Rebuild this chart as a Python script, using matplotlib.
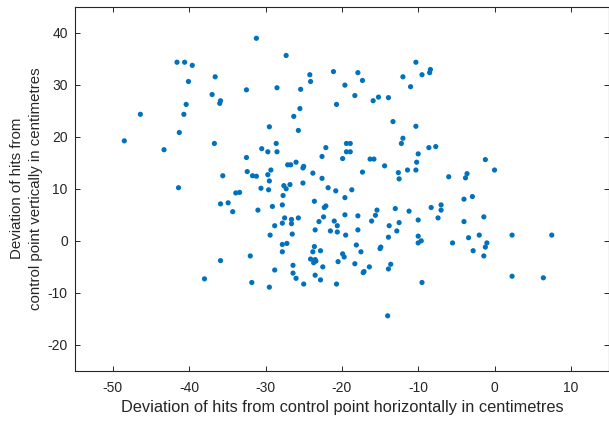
import matplotlib
matplotlib.use("Agg")
import matplotlib.pyplot as plt

plt.rcParams['font.family'] = ['Liberation Sans', 'DejaVu Sans']
plt.rcParams['axes.unicode_minus'] = False

# deviation of each hit from the control point (cm)
x_dev = [
    -41.6, -40.6, -39.6, -40.1, -36.6, -32.5, -37.0, -35.9, -36.0, -40.4, -46.4, -40.7,
    -31.2, -27.3, -24.2, -24.1, -21.1, -17.9, -17.3, -19.6, -28.5, -25.4, -18.3, -15.9,
    -15.2, -13.9, -20.7, -25.5, -26.3, -29.5, -25.7, -12.0, -11.0, -10.3, -13.3, -10.3,
    -9.5, -8.4, -8.5,
    -48.5, -41.3, -43.3, -36.7, -32.5, -32.4, -35.6, -41.4, -33.9, -33.4, -35.9, -34.9, -34.3,
    -28.6, -30.5, -29.7, -28.5, -22.1, -22.6, -19.4, -18.9, -19.4, -18.9, -19.9, -27.1,
    -26.7, -26.0, -25.0, -25.1, -31.7, -31.2, -29.7, -29.3, -29.5, -30.6, -29.6, -27.6,
    -26.8, -27.3, -27.7, -25.1, -23.8, -22.6, -21.8, -20.8, -18.7, -19.6, -23.6, -22.1,
    -22.3, -31.0, -29.1, -27.8, -27.5, -26.6, -26.6, -27.8, -25.7, -28.8, -29.4, -26.5,
    -27.8, -27.2, -22.4, -23.0, -23.5, -21.0, -20.6, -19.6, -17.9, -21.5, -20.6, -19.5,
    -17.9, -23.6, -18.1, -17.3, -16.3, -15.8, -14.4, -12.6, -12.5, -11.4, -10.3, -12.2,
    -12.0, -10.2, -15.4, -15.6, -16.1, -13.0, -11.2, -13.8, -12.5, -12.8, -13.9, -14.9,
    -8.6, -7.7, -10.0, -1.2, 0.0, -6.0, -3.6, -3.8, -4.0, -2.9, -7.0, -7.0, -8.3, -10.0,
    -7.4, -4.0, -1.4, -10.0, -9.6, -10.0, -5.5, -3.4, -2.0, -1.0, -1.2, 2.3, 7.5,
    -2.8, -1.4, 2.3, 6.4, -9.5,
    -32.0, -31.8, -29.5, -28.8, -27.8, -26.4, -26.4, -26.0, -25.0, -23.8, -22.8, -24.1,
    -23.5, -23.7, -23.4, -22.5, -23.5, -22.8, -20.7, -20.5, -19.9, -19.7, -17.5, -18.3,
    -17.1, -17.2, -16.4, -15.0, -13.6, -13.9, -14.0,
    -35.9, -38.0,
]
y_dev = [
    34.3, 34.3, 33.7, 30.6, 31.5, 29.0, 28.1, 26.9, 26.4, 26.2, 24.3, 24.3,
    38.9, 35.6, 31.9, 30.6, 32.5, 32.3, 30.8, 29.9, 29.4, 29.1, 27.9, 26.9,
    27.6, 27.5, 26.2, 25.4, 23.9, 21.9, 21.2, 31.5, 29.6, 34.3, 22.9, 22.0,
    31.9, 32.9, 32.3,
    19.2, 20.8, 17.5, 18.7, 16.0, 13.3, 12.5, 10.2, 9.2, 9.3, 7.1, 7.3, 5.6,
    18.7, 17.7, 17.1, 17.1, 17.9, 16.2, 18.7, 18.7, 17.1, 17.1, 15.8, 14.6,
    14.6, 15.1, 14.3, 14.0, 12.5, 12.4, 12.7, 13.6, 11.5, 10.1, 9.8, 10.6,
    10.8, 10.0, 8.7, 11.1, 13.0, 12.0, 10.2, 9.6, 9.8, 8.3, 7.6, 6.7,
    6.4, 5.9, 6.6, 6.9, 4.4, 4.1, 3.3, 3.4, 4.4, 2.9, 1.1, 1.3,
    -0.7, -0.5, 4.6, 3.7, 2.1, 3.8, 2.9, 5.0, 4.8, 1.9, 1.7, 1.1,
    2.1, -1.1, -0.8, 13.2, 15.7, 15.7, 14.4, 13.1, 11.9, 13.6, 13.6, 18.7,
    19.7, 15.1, 5.9, 4.9, 3.8, 6.2, 5.7, 2.9, 3.5, 1.9, 0.7, -1.2,
    17.9, 18.1, 16.7, 15.6, 13.6, 12.3, 12.9, 12.1, 8.0, 8.5, 6.9, 5.9, 6.4, 4.0,
    4.4, 3.7, 4.6, 0.9, 0.0, -0.4, -0.4, 0.6, 1.1, -0.4, -1.2, 1.1, 1.1,
    -1.9, -2.9, -6.8, -7.1, -8.0,
    -2.9, -8.0, -8.9, -5.6, -2.1, -4.7, -6.2, -7.2, -8.3, -2.1, -1.9, -3.5,
    -3.6, -4.2, -3.9, -5.0, -6.6, -7.5, -8.3, -4.0, -2.5, -3.1, -2.1, -4.4,
    -5.9, -6.1, -5.0, -1.5, -4.5, -5.4, -14.4,
    -3.8, -7.3,
]

x_ticks = [-50, -40, -30, -20, -10, 0, 10]
y_ticks = [-20, -10, 0, 10, 20, 30, 40]

fig = plt.figure(figsize=(6.09, 4.23), dpi=100)
ax = fig.add_axes([0.1227, 0.1229, 0.8773, 0.8617])

ax.scatter(x_dev, y_dev, s=14, color='#0072BD', edgecolors='none')

ax.set_xlim(-55, 15)
ax.set_ylim(-25, 45)
ax.set_xticks(x_ticks)
ax.set_yticks(y_ticks)

grey = '#262626'
for s in ax.spines.values():
    s.set_color(grey)
    s.set_linewidth(0.8)
ax.tick_params(direction='in', top=True, right=True, length=3.5, width=0.7,
               colors=grey, labelsize=10)
ax.tick_params(axis='x', pad=7)
ax.tick_params(axis='y', pad=5)

ax.set_xlabel('Deviation of hits from control point horizontally in centimetres',
              fontsize=11.8, color=grey, labelpad=4)
ax.set_ylabel('Deviation of hits from\ncontrol point vertically in centimetres',
              fontsize=10.8, color=grey, labelpad=3, linespacing=1.5)

fig.savefig('out.png', dpi=100)
